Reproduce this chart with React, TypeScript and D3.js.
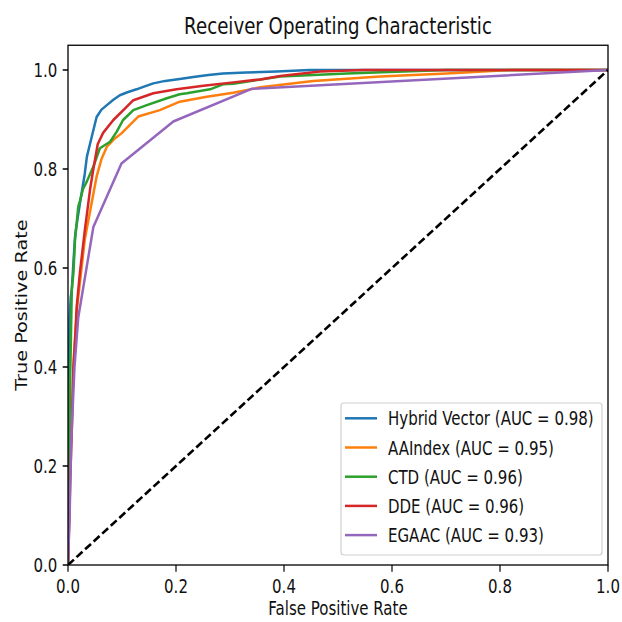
import React from "react";
import * as d3 from "d3";

// ---- data ----
const seriesNames = ["Hybrid Vector", "AAIndex", "CTD", "DDE", "EGAAC"];
const seriesAUC = ["0.98", "0.95", "0.96", "0.96", "0.93"];
const seriesColors = ["#1f77b4", "#ff7f0e", "#2ca02c", "#d62728", "#9467bd"];

const hybridFpr = [0, 0.001, 0.002, 0.003, 0.005, 0.007, 0.010, 0.013, 0.015, 0.022, 0.031, 0.035, 0.044, 0.053, 0.062, 0.072, 0.084, 0.096, 0.11, 0.127, 0.142, 0.158, 0.18, 0.207, 0.232, 0.26, 0.287, 0.33, 0.386, 0.448, 0.6, 0.8, 1.0];
const hybridTpr = [0, 0.25, 0.42, 0.50, 0.54, 0.556, 0.61, 0.663, 0.68, 0.73, 0.79, 0.825, 0.865, 0.905, 0.92, 0.929, 0.94, 0.949, 0.955, 0.961, 0.967, 0.973, 0.978, 0.982, 0.986, 0.99, 0.993, 0.995, 0.997, 1.0, 1.0, 1.0, 1.0];

const aaindexFpr = [0, 0.002, 0.004, 0.006, 0.010, 0.013, 0.017, 0.024, 0.031, 0.041, 0.053, 0.062, 0.072, 0.085, 0.099, 0.13, 0.17, 0.207, 0.257, 0.306, 0.356, 0.454, 0.578, 0.701, 0.82, 1];
const aaindexTpr = [0, 0.1, 0.2, 0.266, 0.4, 0.455, 0.522, 0.589, 0.657, 0.715, 0.785, 0.82, 0.845, 0.86, 0.872, 0.906, 0.919, 0.936, 0.946, 0.954, 0.965, 0.978, 0.987, 0.993, 1, 1];

const ctdFpr = [0, 0.001, 0.002, 0.003, 0.004, 0.005, 0.007, 0.010, 0.013, 0.019, 0.022, 0.028, 0.035, 0.047, 0.059, 0.078, 0.09, 0.102, 0.121, 0.146, 0.183, 0.207, 0.22, 0.263, 0.287, 0.306, 0.393, 0.516, 0.7, 1];
const ctdTpr = [0, 0.1, 0.2, 0.3, 0.38, 0.434, 0.556, 0.589, 0.657, 0.724, 0.735, 0.76, 0.775, 0.805, 0.842, 0.855, 0.875, 0.899, 0.919, 0.929, 0.943, 0.951, 0.953, 0.961, 0.971, 0.972, 0.987, 0.993, 1, 1];

const ddeFpr = [0, 0.002, 0.004, 0.007, 0.010, 0.013, 0.016, 0.022, 0.031, 0.041, 0.047, 0.055, 0.065, 0.084, 0.109, 0.121, 0.158, 0.201, 0.251, 0.306, 0.356, 0.393, 0.467, 0.546, 0.7, 1];
const ddeTpr = [0, 0.08, 0.17, 0.27, 0.40, 0.455, 0.52, 0.59, 0.675, 0.76, 0.80, 0.85, 0.873, 0.899, 0.926, 0.939, 0.953, 0.961, 0.968, 0.975, 0.981, 0.988, 0.997, 1, 1, 1];

const egaacFpr = [0, 0.003, 0.006, 0.012, 0.019, 0.047, 0.099, 0.195, 0.34, 1];
const egaacTpr = [0, 0.1, 0.25, 0.40, 0.50, 0.683, 0.811, 0.896, 0.962, 1];

const seriesFpr = [hybridFpr, aaindexFpr, ctdFpr, ddeFpr, egaacFpr];
const seriesTpr = [hybridTpr, aaindexTpr, ctdTpr, ddeTpr, egaacTpr];

const xTicks = [0, 0.2, 0.4, 0.6, 0.8, 1.0];
const yTicks = [0, 0.2, 0.4, 0.6, 0.8, 1.0];
const diagonal = [0, 1];

const titleText = "Receiver Operating Characteristic";
const xLabelText = "False Positive Rate";
const yLabelText = "True Positive Rate";

// ---- layout ----
const W = 622;
const H = 622;
const L = 68, R = 608, B = 565, T = 45.25;
const SY = 1.284; // vertical stretch of the reference raster
const FONT = "DejaVu Sans";

function Txt({ x, y, size, anchor = "start", rotate = false, children }: any) {
  return (
    <text
      transform={`translate(${x},${y}) scale(1,${SY})${rotate ? " rotate(-90)" : ""}`}
      fontSize={size}
      fontFamily={FONT}
      textAnchor={anchor}
      fill="#111"
    >
      {children}
    </text>
  );
}

export default function App() {
  const x = d3.scaleLinear().domain([0, 1]).range([L, R]);
  const y = d3.scaleLinear().domain([0, 1.05]).range([B, T]);
  const line = d3
    .line<[number, number]>()
    .x((d) => x(d[0]))
    .y((d) => y(d[1]));

  const legX = 341, legY = 403, legW = 261, legH = 152;
  const rowY0 = 418.3, rowDy = 29.2;

  return (
    <svg
      width={W}
      height={H}
      style={{ position: "absolute", left: 0, top: 0, background: "#fff" }}
    >
      <rect x={0} y={0} width={W} height={H} fill="#fff" />
      <defs>
        <clipPath id="plot">
          <rect x={L} y={T} width={R - L} height={B - T} />
        </clipPath>
      </defs>
      <g clipPath="url(#plot)">
        {seriesNames.map((n, i) => (
          <path
            key={n}
            d={line(seriesFpr[i].map((f, j) => [f, seriesTpr[i][j]] as [number, number])) || ""}
            fill="none"
            stroke={seriesColors[i]}
            strokeWidth={2.5}
            strokeLinejoin="round"
          />
        ))}
        <path
          d={line(diagonal.map((v) => [v, v] as [number, number])) || ""}
          fill="none"
          stroke="#000"
          strokeWidth={2.6}
          strokeDasharray="8 3.6"
        />
      </g>

      {/* frame */}
      <rect x={L} y={T} width={R - L} height={B - T} fill="none" stroke="#000" strokeWidth={1.3} />

      {/* x ticks */}
      {xTicks.map((t) => (
        <g key={"x" + t}>
          <line x1={x(t)} x2={x(t)} y1={B} y2={B + 6.8} stroke="#000" strokeWidth={1.2} />
          <Txt x={x(t)} y={B + 28} size={15} anchor="middle">
            {t.toFixed(1)}
          </Txt>
        </g>
      ))}
      {/* y ticks */}
      {yTicks.map((t) => (
        <g key={"y" + t}>
          <line x1={L - 5.3} x2={L} y1={y(t)} y2={y(t)} stroke="#000" strokeWidth={1.5} />
          <Txt x={L - 10.6} y={y(t) + 7} size={15} anchor="end">
            {t.toFixed(1)}
          </Txt>
        </g>
      ))}

      {/* labels */}
      <Txt x={(L + R) / 2} y={34} size={18.2} anchor="middle">
        {titleText}
      </Txt>
      <Txt x={(L + R) / 2} y={615} size={15} anchor="middle">
        {xLabelText}
      </Txt>
      <Txt x={26.5} y={(B + T) / 2} size={15} anchor="middle" rotate>
        {yLabelText}
      </Txt>

      {/* legend */}
      <rect
        x={legX}
        y={legY}
        width={legW}
        height={legH}
        rx={3}
        ry={3}
        fill="#fff"
        fillOpacity={0.8}
        stroke="#d0d0d0"
        strokeWidth={1.2}
      />
      {seriesNames.map((n, i) => (
        <g key={"leg" + n}>
          <line
            x1={345}
            x2={377}
            y1={rowY0 + i * rowDy}
            y2={rowY0 + i * rowDy}
            stroke={seriesColors[i]}
            strokeWidth={2.5}
          />
          <Txt x={388} y={rowY0 + i * rowDy + 7} size={15}>
            {`${n} (AUC = ${seriesAUC[i]})`}
          </Txt>
        </g>
      ))}
    </svg>
  );
}
